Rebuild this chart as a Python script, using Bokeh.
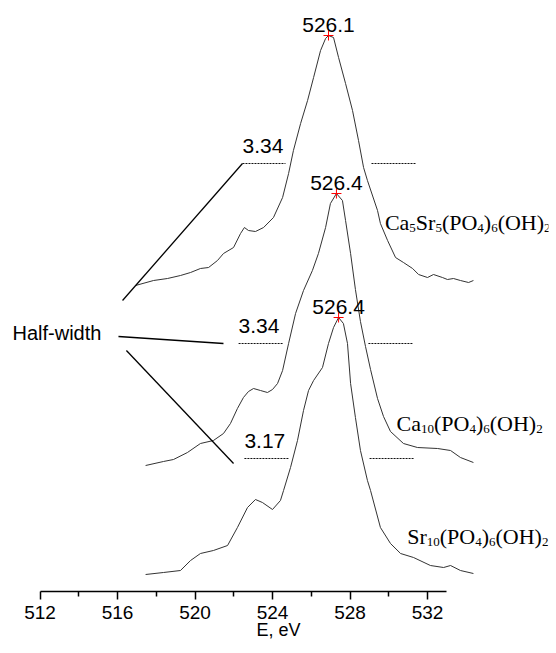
from bokeh.plotting import figure
from bokeh.models import Range1d, FixedTicker
from bokeh.core.properties import value
from bokeh.embed import file_html
from bokeh.resources import INLINE

# ---------------- data ----------------
# Ca5Sr5(PO4)6(OH)2  (top spectrum)
e_ca5sr5 = [516.93, 517.86, 518.58, 519.25, 519.77, 520.28, 520.70, 521.16, 521.47, 521.99,
            522.35, 522.55, 522.76, 523.12, 523.54, 524.05, 524.52, 524.83, 525.08, 525.45,
            525.81, 526.12, 526.48, 526.74, 526.89, 527.15, 527.41, 527.77, 528.13, 528.44,
            528.70, 528.90, 529.42, 529.57, 529.94, 530.35, 530.76, 531.23, 531.54, 532.00,
            532.31, 532.77, 533.03, 533.34, 533.70, 534.12, 534.37]
i_ca5sr5 = [306, 311, 313, 316, 319, 323, 324, 331, 338, 344,
            358, 364, 361, 360, 364, 374, 394, 418, 441, 468,
            491, 514, 541, 553, 556, 554, 534, 508, 481, 451,
            424, 411, 381, 368, 351, 334, 329, 323, 317, 314,
            317, 314, 312, 313, 311, 309, 311]

# Ca10(PO4)6(OH)2  (middle spectrum)
e_ca10 = [517.45, 518.37, 518.89, 519.61, 520.28, 520.95, 521.47, 521.83, 522.19, 522.50,
          522.76, 523.02, 523.38, 523.74, 524.00, 524.26, 524.52, 524.83, 525.19, 525.60,
          526.06, 526.37, 526.74, 526.99, 527.30, 527.61, 527.77, 528.03, 528.28, 528.54,
          528.80, 529.06, 529.42, 529.73, 530.09, 530.76, 531.48, 532.52, 533.19, 533.70,
          534.37]
i_ca10 = [126, 130, 132, 139, 148, 151, 158, 168, 183, 194,
          200, 203, 201, 199, 202, 208, 221, 248, 278, 301,
          321, 338, 364, 388, 398, 391, 371, 338, 302, 270,
          245, 222, 193, 175, 160, 148, 144, 143, 141, 134,
          129]

# Sr10(PO4)6(OH)2  (bottom spectrum)
e_sr10 = [517.45, 518.37, 519.25, 519.77, 520.28, 520.95, 521.68, 522.19, 522.71, 523.12,
          523.48, 524.00, 524.41, 524.57, 524.93, 525.29, 525.60, 525.86, 526.12, 526.58,
          526.89, 527.15, 527.41, 527.66, 527.87, 528.03, 528.28, 528.54, 528.90, 529.06,
          529.57, 530.09, 530.61, 531.28, 532.15, 532.83, 533.19, 533.70, 534.37]
i_sr10 = [17, 19, 21, 31, 38, 41, 46, 64, 84, 92,
          89, 82, 91, 101, 124, 151, 181, 201, 211, 224,
          248, 264, 274, 268, 248, 208, 174, 141, 111, 101,
          64, 48, 38, 34, 26, 24, 26, 21, 18]

# peak maxima (red crosses) and their labels
peak_e = [526.89, 527.30, 527.41]
peak_i = [556, 398, 274]
peak_labels = ["526.1", "526.4", "526.4"]

# half-width values and their levels
hw_labels = ["3.34", "3.34", "3.17"]
hw_level = [428, 248, 133]
hw_left_x0 = [522.45, 522.25, 522.55]
hw_left_x1 = [524.67, 524.52, 524.83]
hw_right_x0 = [529.11, 528.95, 529.01]
hw_right_x1 = [531.38, 531.23, 531.28]

# axis ticks
major_ticks = [512, 516, 520, 524, 528, 532]
minor_ticks = [514, 518, 522, 526, 530]

# ---------------- figure ----------------
p = figure(frame_width=540, frame_height=583, width=556, height=645,
           x_range=Range1d(510.374, 538.245), y_range=Range1d(0, 583),
           output_backend="svg", toolbar_location=None, min_border=0)
p.min_border_left = 8
p.min_border_right = 8
p.min_border_top = 8
p.min_border_bottom = 0
p.outline_line_color = None
p.grid.visible = False
p.yaxis.visible = False
p.background_fill_color = "white"
p.border_fill_color = "white"

ax = p.xaxis[0]
ax.ticker = FixedTicker(ticks=major_ticks, minor_ticks=minor_ticks)
ax.bounds = (512, 533)
ax.axis_line_width = 1.5
ax.axis_line_color = "black"
ax.major_tick_in = 0
ax.major_tick_out = 8
ax.minor_tick_in = 0
ax.minor_tick_out = 5
ax.major_tick_line_width = 1.5
ax.minor_tick_line_width = 1.5
ax.major_label_text_font = "Liberation Sans"
ax.major_label_text_font_size = "19px"
ax.major_label_text_color = "black"
ax.major_label_standoff = 6
ax.axis_label = "E, eV"
ax.axis_label_text_font = "Liberation Sans"
ax.axis_label_text_font_size = "18px"
ax.axis_label_text_font_style = "normal"
ax.axis_label_text_color = "black"
ax.axis_label_standoff = -2

curve_color = "#333333"
p.line(e_ca5sr5, i_ca5sr5, line_color=curve_color, line_width=1, line_join="round")
p.line(e_ca10, i_ca10, line_color=curve_color, line_width=1, line_join="round")
p.line(e_sr10, i_sr10, line_color=curve_color, line_width=1, line_join="round")

p.scatter(peak_e, peak_i, marker="cross", size=10, line_color="red", line_width=1)

TXT_DY = -8  # screen-pixel correction of the text baseline
font_sans = value("Liberation Sans")
p.text(x=peak_e, y=[v + 3 for v in peak_i], text=peak_labels, text_font=font_sans,
       text_font_size="21px", text_align="center", text_baseline="alphabetic",
       y_offset=TXT_DY, text_color="black")

# half-width dotted markers
p.segment(x0=hw_left_x0, y0=hw_level, x1=hw_left_x1, y1=hw_level,
          line_color="#111111", line_width=1, line_dash="2 1")
p.segment(x0=hw_right_x0, y0=hw_level, x1=hw_right_x1, y1=hw_level,
          line_color="#111111", line_width=1, line_dash="2 1")
p.text(x=hw_left_x0, y=[v + 10 for v in hw_level], text=hw_labels, text_font=font_sans,
       text_font_size="21px", text_align="left", text_baseline="alphabetic",
       y_offset=TXT_DY, text_color="black")

# "Half-width" callout
p.text(x=[510.58], y=[251], text=["Half-width"], text_font=font_sans,
       text_font_size="20px", text_align="left", text_baseline="alphabetic",
       y_offset=TXT_DY, text_color="black")
p.segment(x0=[516.26, 516.05, 516.46], y0=[291, 255, 241],
          x1=[522.45, 521.47, 521.99], y1=[428, 248, 128],
          line_color="black", line_width=1.3)

# chemical formula labels with subscripts (Times-metric serif)
serif = value("Liberation Serif")
W = {"C": 0.667, "a": 0.444, "S": 0.556, "r": 0.333, "(": 0.333, ")": 0.333,
     "P": 0.556, "O": 0.722, "H": 0.722}
MAIN, SUB = 22, 13

def formula(parts, x0, y0):
    xs_m, ys_m, t_m, off_m = [], [], [], []
    xs_s, ys_s, t_s, off_s = [], [], [], []
    off = 0.0
    for txt, sub in parts:
        if sub:
            xs_s.append(x0); ys_s.append(y0); t_s.append(txt); off_s.append(off)
            off += 0.5 * SUB * len(txt)
        else:
            xs_m.append(x0); ys_m.append(y0); t_m.append(txt); off_m.append(off)
            off += sum(W.get(c, 0.5) for c in txt) * MAIN
    p.text(x=xs_m, y=ys_m, text=t_m, x_offset=off_m, text_font=serif,
           text_font_size=f"{MAIN}px", text_baseline="alphabetic",
           y_offset=TXT_DY, text_color="black")
    p.text(x=xs_s, y=ys_s, text=t_s, x_offset=off_s, y_offset=TXT_DY + 5, text_font=serif,
           text_font_size=f"{SUB}px", text_baseline="alphabetic", text_color="black")

formula([("Ca", 0), ("5", 1), ("Sr", 0), ("5", 1), ("(PO", 0), ("4", 1), (")", 0), ("6", 1),
         ("(OH)", 0), ("2", 1)], 529.80, 361)
formula([("Ca", 0), ("10", 1), ("(PO", 0), ("4", 1), (")", 0), ("6", 1),
         ("(OH)", 0), ("2", 1)], 530.40, 160)
formula([("Sr", 0), ("10", 1), ("(PO", 0), ("4", 1), (")", 0), ("6", 1),
         ("(OH)", 0), ("2", 1)], 530.95, 47)

open("out.html", "w").write(file_html(p, INLINE))
